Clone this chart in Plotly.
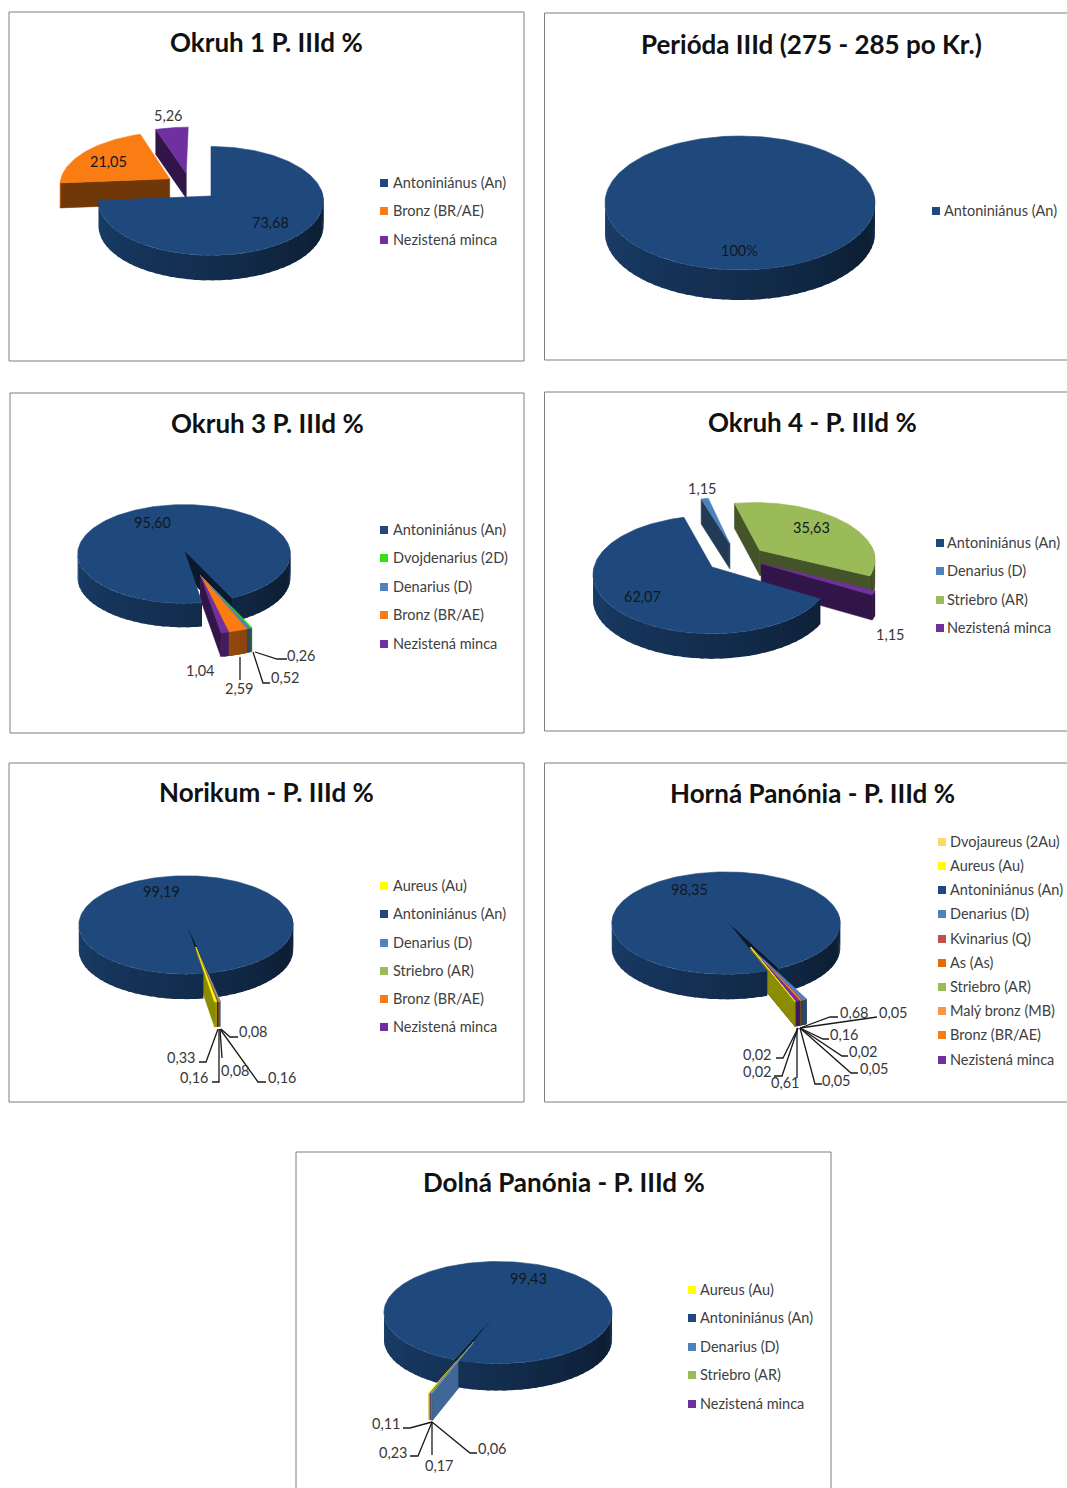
import numpy as np
import plotly.graph_objects as go

# ---------- data ----------
titles = ["Okruh 1 P. IIId %", "Perióda IIId (275 - 285 po Kr.)", "Okruh 3 P. IIId %",
          "Okruh 4 - P. IIId %", "Norikum - P. IIId %", "Horná Panónia - P. IIId %",
          "Dolná Panónia - P. IIId %"]

okruh1_names = ["Antoninianus (An)", "Bronz (BR/AE)", "Nezistená minca"]
okruh1_values = [73.68, 21.05, 5.26]
perioda_names = ["Antoninianus (An)"]
perioda_values = [100]
okruh3_names = ["Antoninianus (An)", "Dvojdenarius (2D)", "Denarius (D)", "Bronz (BR/AE)", "Nezistená minca"]
okruh3_values = [95.60, 0.26, 0.52, 2.59, 1.04]
okruh4_names = ["Antoninianus (An)", "Denarius (D)", "Striebro (AR)", "Nezistená minca"]
okruh4_values = [62.07, 1.15, 35.63, 1.15]
norikum_names = ["Aureus (Au)", "Antoninianus (An)", "Denarius (D)", "Striebro (AR)", "Bronz (BR/AE)", "Nezistená minca"]
norikum_values = [0.33, 99.19, 0.08, 0.16, 0.08, 0.16]
horna_names = ["Dvojaureus (2Au)", "Aureus (Au)", "Antoninianus (An)", "Denarius (D)", "Kvinarius (Q)", "As (As)",
               "Striebro (AR)", "Malý bronz (MB)", "Bronz (BR/AE)", "Nezistená minca"]
horna_values = [0.02, 0.02, 98.35, 0.68, 0.05, 0.16, 0.02, 0.05, 0.05, 0.61]
dolna_names = ["Aureus (Au)", "Antoninianus (An)", "Denarius (D)", "Striebro (AR)", "Nezistená minca"]
dolna_values = [0.23, 99.43, 0.06, 0.17, 0.11]

# ---------- style ----------
COL = {"Antoninianus (An)": "#1F497D", "Bronz (BR/AE)": "#FA7D14", "Nezistená minca": "#7030A0",
       "Dvojdenarius (2D)": "#33E010", "Denarius (D)": "#4F81BD", "Striebro (AR)": "#9BBB59",
       "Aureus (Au)": "#FFFF00", "Dvojaureus (2Au)": "#FFD966", "Kvinarius (Q)": "#C0504D",
       "As (As)": "#E36C09", "Malý bronz (MB)": "#F79646"}
FONT = "Lato"
TXT = "#404040"

def shade(hexc, f):
    r, g, b = [int(hexc[i:i + 2], 16) for i in (1, 3, 5)]
    return f"rgb({int(r * f)},{int(g * f)},{int(b * f)})"

# layout of each panel: frame, title centre, apex, radii, depth, perspective, rotation,
# slice offsets (du, dv in radius units), legend rows, value-label positions and leader lines
PANELS = [
 dict(names=okruh1_names, vals=okruh1_values, frame=(9, 12, 524, 361), tc=(266, 42),
      ap=(211, 196), r=(112, 54), d=25, k=.09, rot=0, off=[(0, 0), (-.38, -.33), (-.23, -.44)],
      leg=(384, 393, [183, 211, 240]), lab=[(270, 222), (108, 161), (168, 115)], dark=[0, 1]),
 dict(names=perioda_names, vals=perioda_values, frame=(544.5, 13, 1090, 360), tc=(811, 44),
      ap=(740, 203), r=(135, 67), d=30, k=0, rot=0, off=[(0, 0)],
      leg=(936, 944, [211]), lab=[(739, 250)], fmt="100%", dark=[0]),
 dict(names=okruh3_names, vals=okruh3_values, frame=(10, 393, 524, 733), tc=(267, 423),
      ap=(184, 550), r=(106, 49), d=24, k=.08, rot=171, needle=True, off=[(0, 0)] + [(.15, .5)] * 4,
      leg=(384, 393, [530, 558, 587, 615, 644]),
      lab=[(152, 522), (301, 655), (285, 677), (239, 688), (200, 670)], dark=[0],
      lead=[None, [(255, 652), (277, 659), (287, 659)], [(253, 652), (263, 683), (270, 683)],
            [(240, 657), (240, 680)], None]),
 dict(names=okruh4_names, vals=okruh4_values, frame=(544.5, 392, 1090, 731), tc=(812, 422),
      ap=(712, 567), r=(118, 58), d=25, k=.13, rot=121, off=[(0, 0), (.16, -.42), (.42, -.30), (.42, -.06)],
      leg=(940, 947, [543, 571, 600, 628]),
      lab=[(642, 596), (702, 488), (811, 527), (890, 634)], dark=[0, 2]),
 dict(names=norikum_names, vals=norikum_values, frame=(9, 763, 524, 1102), tc=(266, 792),
      ap=(186, 922), r=(107, 49), d=25, k=.06, rot=170, needle=True, off=[(.09, .5), (0, 0)] + [(.09, .5)] * 4,
      leg=(384, 393, [886, 914, 943, 971, 999, 1027]),
      lab=[(181, 1057), (161, 891), (253, 1031), (282, 1077), (235, 1070), (194, 1077)], dark=[1],
      lead=[[(218, 1029), (206, 1062), (199, 1062)], None, [(221, 1029), (230, 1037), (238, 1037)],
            [(220, 1029), (258, 1082), (266, 1082)], [(220, 1029), (222, 1058)],
            [(219, 1029), (219, 1082), (212, 1082)]]),
 dict(names=horna_names, vals=horna_values, frame=(544.5, 763, 1090, 1102), tc=(812, 793),
      ap=(726, 920), r=(114, 51), d=25, k=.06, rot=159.86, needle=True,
      off=[(.21, .52)] * 2 + [(0, 0)] + [(.21, .52)] * 7,
      leg=(942, 950, [842, 866, 890, 914, 939, 963, 987, 1011, 1035, 1060]),
      lab=[(757, 1054), (757, 1071), (689, 889), (854, 1012), (893, 1012), (844, 1034),
           (863, 1051), (874, 1068), (836, 1080), (785, 1082)], dark=[2],
      lead=[[(798, 1028), (783, 1058), (776, 1058)], [(798, 1028), (782, 1076), (774, 1076)], None,
            [(800, 1028), (830, 1017), (838, 1017)], [(800, 1028), (877, 1017)],
            [(800, 1028), (823, 1039), (829, 1039)], [(800, 1028), (842, 1056), (848, 1056)],
            [(800, 1028), (851, 1073), (858, 1073)], [(800, 1028), (815, 1084), (822, 1084)],
            [(797, 1028), (797, 1078)]]),
 dict(names=dolna_names, vals=dolna_values, frame=(296, 1152, 831, 1500), tc=(564, 1182),
      ap=(498, 1311), r=(114, 51), d=27, k=.03, rot=201.0, needle=True, wallf=.8,
      off=[(-.21, .6), (0, 0)] + [(-.21, .6)] * 3,
      leg=(692, 700, [1290, 1318, 1347, 1375, 1404]),
      lab=[(393, 1452), (528, 1278), (492, 1448), (439, 1465), (386, 1423)], dark=[1],
      lead=[[(432, 1422), (418, 1456), (410, 1456)], None, [(432, 1422), (470, 1453), (477, 1453)],
            [(432, 1422), (432, 1455)], [(432, 1422), (410, 1428), (403, 1428)]]),
]

RIMF = lambda t: float(np.interp(t, [85, 115, 180, 270, 275], [.6, .42, .62, .85, .85]))

fig = go.Figure()

def poly(xs, ys, color, edge_line=True):
    fig.add_trace(go.Scatter(x=xs, y=ys, mode="lines" if edge_line else "none", fill="toself", fillcolor=color,
                             line=dict(color=color, width=.6), hoverinfo="skip", showlegend=False))

for p in PANELS:
    ax, ay = p["ap"]; rx, ry = p["r"]; k = p["k"]; depth = p["d"]

    def pr(u, v, dy=0):
        f = 1 / (1 - k * v)
        return ax + rx * u * f, ay + ry * v * f + dy

    # slices: clockwise from the rotation angle, sweep from the values
    total = sum(p["vals"])
    t = p["rot"]
    sl = []
    for n, v, (du, dv) in zip(p["names"], p["vals"], p["off"]):
        sw = v / total * 360
        sl.append(dict(n=n, a=t, b=t + sw, du=du, dv=dv, c=COL[n]))
        t += sw

    def edge(s, th):
        r = np.radians(th)
        return s["du"] + np.sin(r), s["dv"] - np.cos(r)

    def top(s):
        ths = np.linspace(s["a"], s["b"], max(2, int((s["b"] - s["a"]) / 1.5) + 2))
        pts = [pr(*edge(s, th)) for th in ths]
        if s["b"] - s["a"] < 359.9:
            pts = [pr(s["du"], s["dv"])] + pts + [pr(s["du"], s["dv"])]
        poly([q[0] for q in pts], [q[1] for q in pts], s["c"])

    def radial(s, wf):
        for th, vis in ((s["a"], np.sin(np.radians(s["a"])) < -1e-6), (s["b"], np.sin(np.radians(s["b"])) > 1e-6)):
            if s["b"] - s["a"] < 359.9 and vis:
                A = pr(s["du"], s["dv"]); R = pr(*edge(s, th))
                poly([A[0], R[0], R[0], A[0], A[0]], [A[1], R[1], R[1] + depth, A[1] + depth, A[1]],
                     shade(s["c"], wf))

    def strips(s, step=4):
        out = []
        for th in np.arange(s["a"], s["b"], step):
            th2 = min(th + step, s["b"])
            m = ((th + th2) / 2) % 360
            if 85 < m < 268:
                out.append((m, th, th2))
        return out

    def draw_strip(s, st):
        m, th, th2 = st
        # strips overlap the previous one so that no seams show between them
        tt = np.linspace(max(th - 1.5, s["a"]), th2, 4)
        P = [pr(*edge(s, x)) for x in tt]
        xs = [q[0] for q in P] + [q[0] for q in P[::-1]] + [P[0][0]]
        ys = [q[1] for q in P] + [q[1] + depth for q in P[::-1]] + [P[0][1]]
        poly(xs, ys, shade(s["c"], RIMF(m)), edge_line=False)

    def cent(s):
        return s["dv"] - .6 * np.cos(np.radians((s["a"] + s["b"]) / 2))

    wf = p.get("wallf", .45)
    if p.get("needle"):
        main = max(sl, key=lambda s: s["b"] - s["a"])
        small = sorted([s for s in sl if s is not main], key=cent)
        gap = (main["a"] % 360)
        radial(main, .35)
        st = strips(main)
        if gap < 180:
            first = [q for q in st if q[0] < gap]; last = [q for q in st if q[0] >= gap]
        else:
            first = [q for q in st if q[0] >= gap - 3]; last = [q for q in st if q[0] < gap - 3]
        for q in first:
            draw_strip(main, q)
        for s in small:
            radial(s, p.get("wallf", .55) if COL["Aureus (Au)"] == s["c"] or p.get("wallf") else wf)
            for q in strips(s, 1):
                draw_strip(s, q)
        for q in last:
            draw_strip(main, q)
        top(main)
        for s in small:
            top(s)
    else:
        for s in sorted(sl, key=cent):
            radial(s, wf)
            for q in strips(s):
                draw_strip(s, q)
            top(s)

    # leader lines
    for ld in p.get("lead", []):
        if ld:
            fig.add_trace(go.Scatter(x=[q[0] for q in ld], y=[q[1] for q in ld], mode="lines",
                                     line=dict(color="#1a1a1a", width=1.3), hoverinfo="skip", showlegend=False))

    # value labels
    for i, ((lx, ly), v) in enumerate(zip(p["lab"], p["vals"])):
        txt = p.get("fmt") or f"{v:.2f}".replace(".", ",")
        fig.add_annotation(x=lx, y=ly, text=txt, showarrow=False, xanchor="center", yanchor="middle",
                           xshift=.5, yshift=0,
                           font=dict(family=FONT, size=14.5, color="#101820" if i in p["dark"] else "#383838"))

    # legend rows
    mx, tx, rows = p["leg"]
    fig.add_trace(go.Scatter(x=[mx] * len(rows), y=rows, mode="markers", hoverinfo="skip", showlegend=False,
                             marker=dict(symbol="square", size=8, color=[COL[n] for n in p["names"]])))
    for n, y in zip(p["names"], rows):
        fig.add_annotation(x=tx, y=y, text=n.replace("Antoninianus", "Antoniniánus"), showarrow=False,
                           xanchor="left", yanchor="middle", xshift=-2, yshift=1,
                           font=dict(family=FONT, size=14.5, color=TXT))

for p, title in zip(PANELS, titles):
    x0, y0, x1, y1 = p["frame"]
    fig.add_shape(type="rect", x0=x0, y0=y0, x1=x1, y1=y1, line=dict(color="#7f7f7f", width=1), layer="below")
    fig.add_annotation(x=p["tc"][0], y=p["tc"][1], text=f"<b>{title}</b>", showarrow=False, xanchor="center",
                       yanchor="middle", yshift=0, font=dict(family=FONT, size=26, color="#111111"))

fig.update_layout(width=1067, height=1488, margin=dict(l=0, r=0, t=0, b=0), plot_bgcolor="white",
                  paper_bgcolor="white", showlegend=False,
                  xaxis=dict(range=[0, 1067], visible=False, fixedrange=True),
                  yaxis=dict(range=[1488, 0], visible=False, fixedrange=True))
fig.write_html("out.html", post_script="document.body.style.margin='0';document.body.style.overflow='hidden';",
               config=dict(displayModeBar=False))
